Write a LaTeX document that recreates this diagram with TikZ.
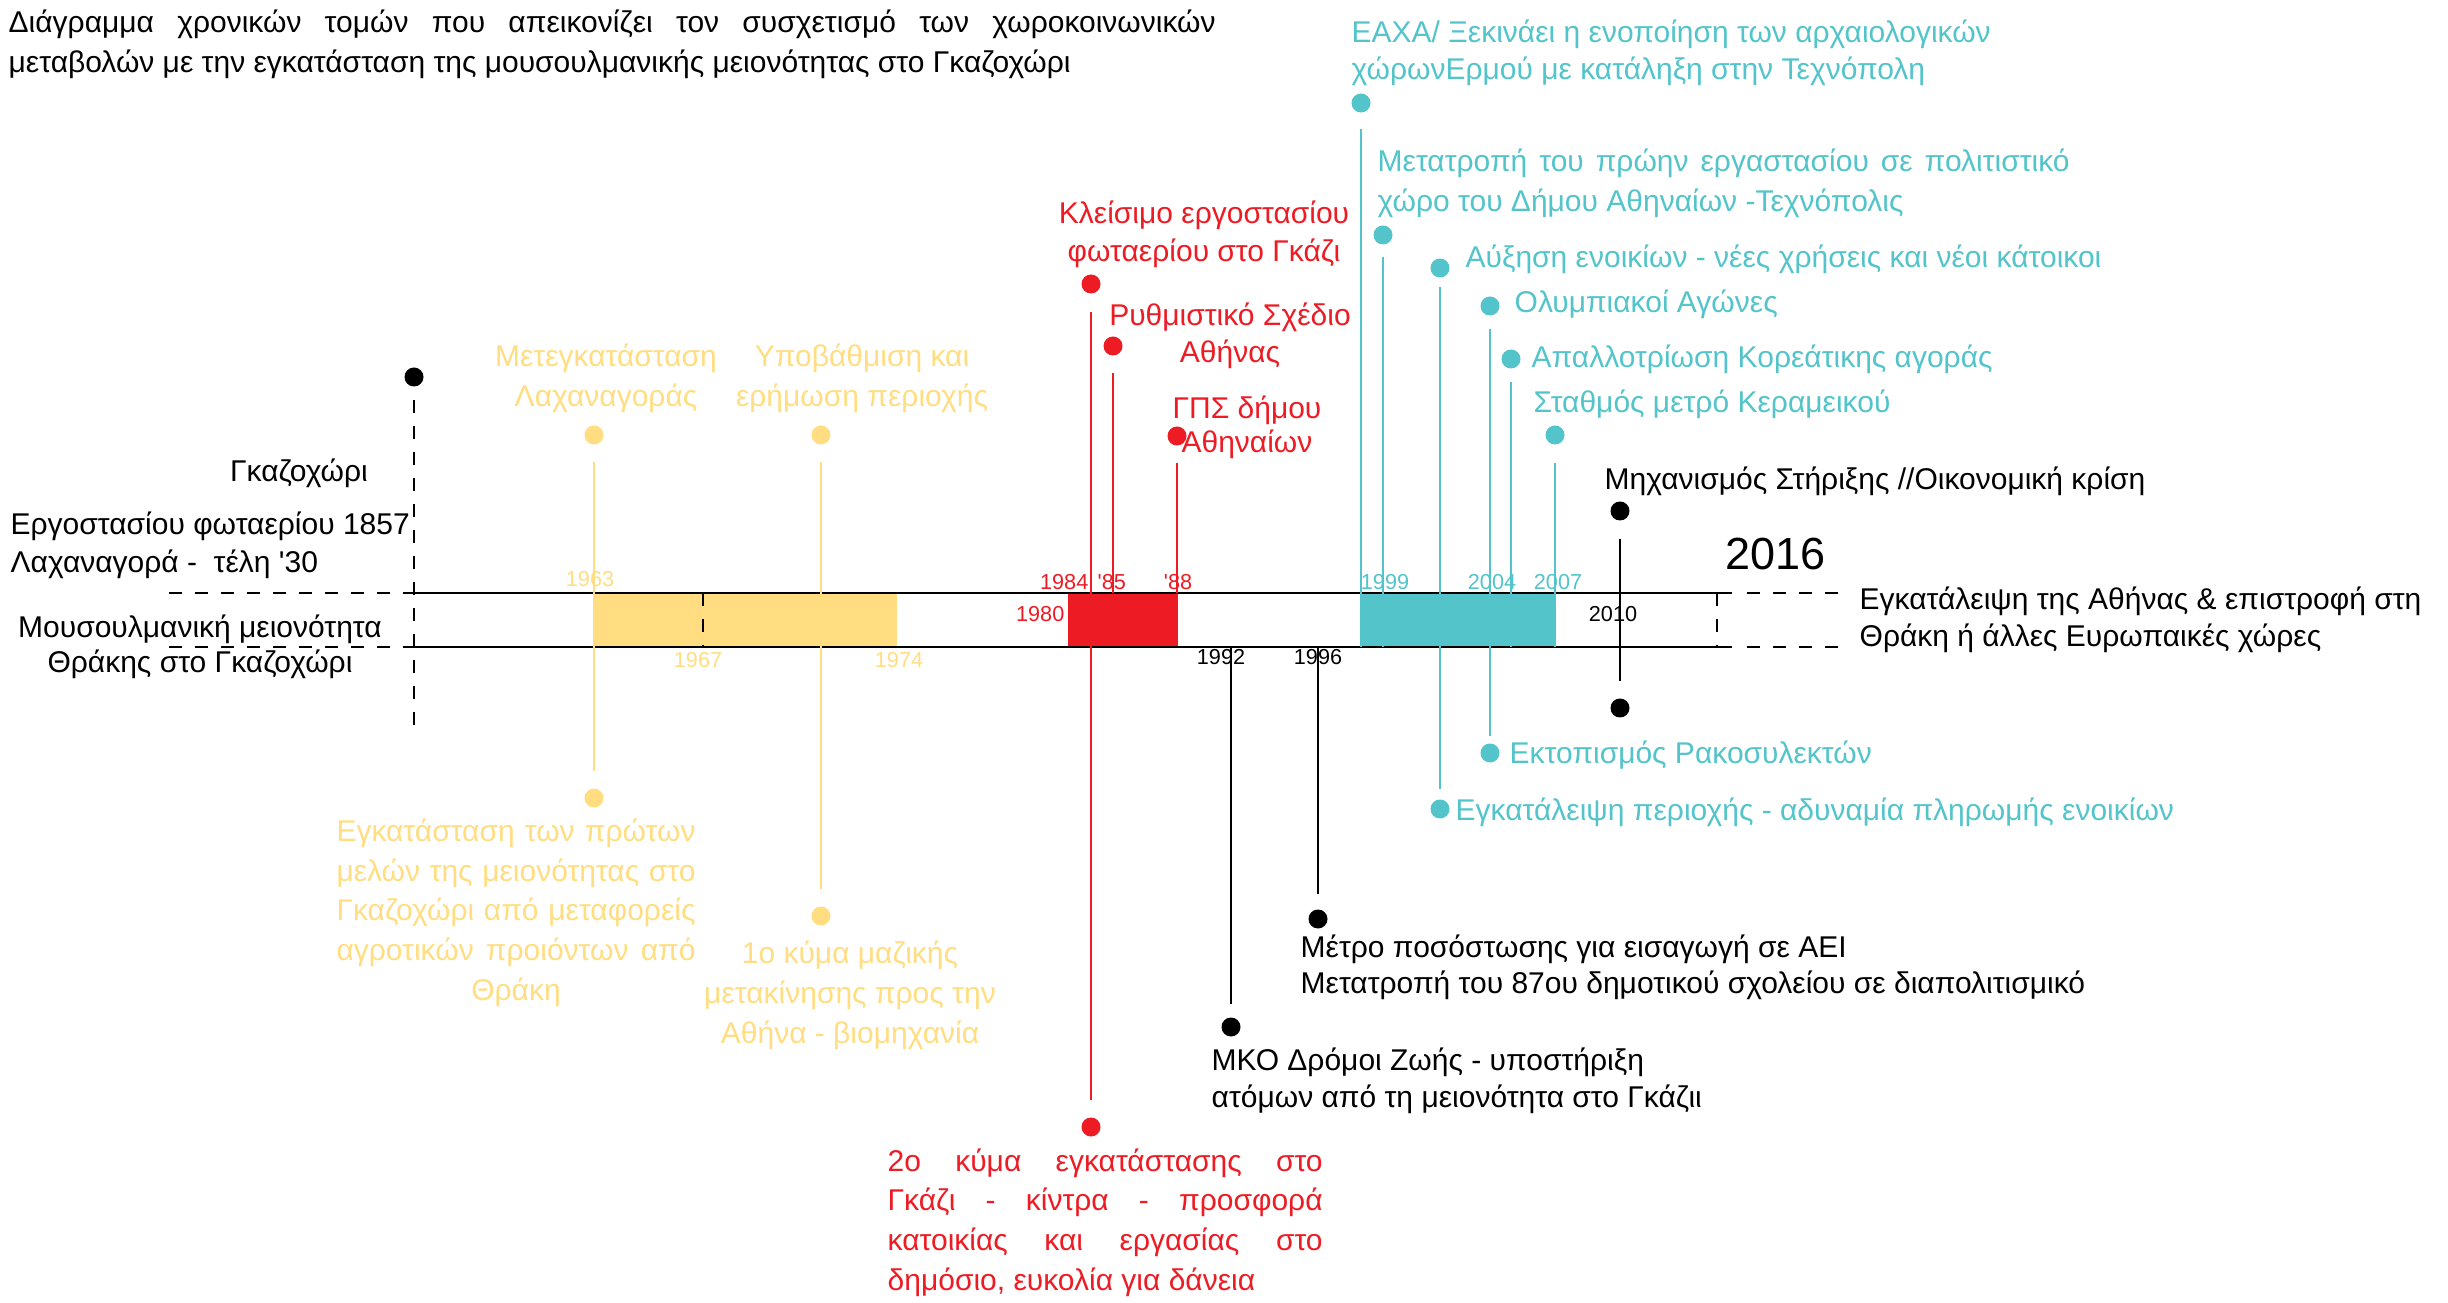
\documentclass[tikz,border=0pt]{standalone}
\usepackage{fontspec}
\setmainfont{Liberation Sans}
\definecolor{oldc}{RGB}{255,221,128}
\definecolor{gasc}{RGB}{237,28,36}
\definecolor{techc}{RGB}{82,196,202}
\tikzset{
  evdot/.style={circle,fill=#1,inner sep=0pt,minimum size=5.7pt},
  evdot/.default=black,
  stemline/.style={line width=0.4pt},
  axisline/.style={line width=0.6pt},
  dashline/.style={line width=0.6pt,dash pattern=on 3.9pt off 3.9pt},
  lbl/.style={font=\fontsize{9}{#1}\selectfont,inner sep=0pt},
  lbl/.default=11.2,
  yr/.style={font=\fontsize{6.5}{7}\selectfont,inner sep=0pt},
}
\begin{document}
\begin{tikzpicture}[x=0.3pt,y=-0.3pt]
\useasboundingbox (0,0) rectangle (2448,1303);
% title
\node[lbl=12,align=left,anchor=base west] (title) at (8,73) {\makebox[362.1pt][s]{Διάγραμμα χρονικών τομών που απεικονίζει τον συσχετισμό των χωροκοινωνικών}\\μεταβολών με την εγκατάσταση της μουσουλμανικής μειονότητας στο Γκαζοχώρι};

% periods
\fill[oldc] (594,593) rectangle (897,647);
\fill[gasc] (1068,593) rectangle (1178,647);
\fill[techc] (1361,593) rectangle (1556,647);

% time axis
\draw[axisline] (414,593) -- (1732,593);
\draw[axisline] (414,647) -- (1732,647);
\draw[dashline] (169,593) -- (414,593);
\draw[dashline] (169,647) -- (414,647);
\draw[dashline] (1747,593) -- (1841,593);
\draw[dashline] (1747,647) -- (1841,647);
\draw[dashline] (703,593) -- (703,647);
\draw[dashline] (1717,593) -- (1717,647);

% start
\node[evdot] (start) at (414,377) {};
\coordinate (startend) at (414,727);
\draw[dashline,shorten <=4pt] (start) -- (startend);
\node[lbl,anchor=base] (gazi) at (299,482) {Γκαζοχώρι};
\node[lbl,anchor=base west] (gasworks) at (10,535) {Εργοστασίου φωταερίου 1857};
\node[lbl,anchor=base west] (market) at (10,573) {Λαχαναγορά -\ \ τέλη \textquotesingle30};
\node[lbl=10.5,align=center,anchor=base] (minority) at (200,673) {Μουσουλμανική μειονότητα\\Θράκης στο Γκαζοχώρι};

% 1963-1974
\node[evdot=oldc] (d63t) at (594,435) {};
\node[evdot=oldc] (d63b) at (594,798) {};
\node[evdot=oldc] (d67t) at (821,435) {};
\node[evdot=oldc] (d67b) at (821,916) {};
\draw[oldc,stemline,shorten <=5pt,shorten >=5pt] (d63t) -- (d63b);
\draw[oldc,stemline,shorten <=5pt,shorten >=5pt] (d67t) -- (d67b);
\node[lbl=12,oldc,align=center,anchor=base] (market2) at (606,407) {Μετεγκατάσταση\\Λαχαναγοράς};
\node[lbl=12,oldc,align=center,anchor=base] (decline) at (862,407) {Υποβάθμιση και\\ερήμωση περιοχής};
\node[lbl=11.9,oldc,align=center,anchor=base] (settle) at (516,1000) {\makebox[107.7pt][s]{Εγκατάσταση των πρώτων}\\\makebox[107.7pt][s]{μελών της μειονότητας στο}\\\makebox[107.7pt][s]{Γκαζοχώρι από μεταφορείς}\\\makebox[107.7pt][s]{αγροτικών προιόντων από}\\Θράκη};
\node[lbl=12,oldc,align=center,anchor=base] (wave1) at (850,1043) {1ο κύμα μαζικής\\μετακίνησης προς την\\Αθήνα - βιομηχανία};
\node[yr,oldc,anchor=base] (y63) at (590,587) {1963};
\node[yr,oldc,anchor=base] (y67) at (698,668) {1967};
\node[yr,oldc,anchor=base] (y74) at (899,668) {1974};

% 1980-1988
\node[evdot=gasc] (d84t) at (1091,284) {};
\node[evdot=gasc] (d84b) at (1091,1127) {};
\node[evdot=gasc] (d85) at (1113,346) {};
\node[evdot=gasc] (d88) at (1177,436) {};
\coordinate (t85) at (1113,593);
\coordinate (t88) at (1177,593);
\draw[gasc,stemline,shorten <=5.5pt,shorten >=5pt] (d84t) -- (d84b);
\draw[gasc,stemline,shorten <=5pt] (d85) -- (t85);
\draw[gasc,stemline,shorten <=5pt] (d88) -- (t88);
\node[lbl=11.4,gasc,align=center,anchor=base] (closing) at (1204,262) {Κλείσιμο εργοστασίου\\φωταερίου στο Γκάζι};
\node[lbl=11.1,gasc,align=center,anchor=base] (masterplan) at (1230,363) {Ρυθμιστικό Σχέδιο\\Αθήνας};
\node[lbl=10.2,gasc,align=center,anchor=base] (gps) at (1247,453) {ΓΠΣ δήμου\\Αθηναίων};
\node[lbl=11.9,gasc,align=left,anchor=base west] (wave2) at (887,1290) {\makebox[130.5pt][s]{2ο κύμα εγκατάστασης στο}\\\makebox[130.5pt][s]{Γκάζι - κίντρα - προσφορά}\\\makebox[130.5pt][s]{κατοικίας και εργασίας στο}\\δημόσιο, ευκολία για δάνεια};
\node[yr,gasc,anchor=base east] (y80) at (1065,622) {1980};
\node[yr,gasc,anchor=base east] (y84) at (1089,590) {1984};
\node[yr,gasc,anchor=base west] (y85) at (1097,590) {\textquotesingle85};
\node[yr,gasc,anchor=base] (y88) at (1178,590) {\textquotesingle88};

% 1992-1996
\node[evdot] (d92) at (1231,1027) {};
\node[evdot] (d96) at (1318,919) {};
\coordinate (t92) at (1231,647);
\coordinate (t96) at (1318,647);
\draw[stemline,shorten >=3.75pt] (t92) -- (d92);
\draw[stemline,shorten >=4.35pt] (t96) -- (d96);
\node[lbl=10.8,align=left,anchor=base west] (quota) at (1300,993) {Μέτρο ποσόστωσης για εισαγωγή σε ΑΕΙ\\Μετατροπή του 87ου δημοτικού σχολείου σε διαπολιτισμικό};
\node[lbl=11.1,align=left,anchor=base west] (ngo) at (1211,1107) {ΜΚΟ Δρόμοι Ζωής - υποστήριξη\\ατόμων από τη μειονότητα στο Γκάζιι};
\node[yr,anchor=base] (y92) at (1221,665) {1992};
\node[yr,anchor=base] (y96) at (1318,665) {1996};

% 1999-2007
\node[evdot=techc] (deaxa) at (1361,103) {};
\node[evdot=techc] (dtechno) at (1383,235) {};
\node[evdot=techc] (drent) at (1440,268) {};
\node[evdot=techc] (dleave) at (1440,809) {};
\node[evdot=techc] (dolymp) at (1490,306) {};
\node[evdot=techc] (devict) at (1490,753) {};
\node[evdot=techc] (dexprop) at (1511,359) {};
\node[evdot=techc] (dmetro) at (1555,435) {};
\coordinate (beaxa) at (1361,647);
\coordinate (btechno) at (1383,647);
\coordinate (bexprop) at (1511,647);
\coordinate (bmetro) at (1555,647);
\draw[techc,stemline,shorten <=4.65pt] (deaxa) -- (beaxa);
\draw[techc,stemline,shorten <=3.45pt] (dtechno) -- (btechno);
\draw[techc,stemline,shorten <=2.55pt,shorten >=2.85pt] (drent) -- (dleave);
\draw[techc,stemline,shorten <=3.75pt,shorten >=1.95pt] (dolymp) -- (devict);
\draw[techc,stemline,shorten <=3.75pt] (dexprop) -- (bexprop);
\draw[techc,stemline,shorten <=5.25pt] (dmetro) -- (bmetro);
\node[lbl=11.1,techc,align=left,anchor=base west] (eaxa) at (1351,80) {ΕΑΧΑ/ Ξεκινάει η ενοποίηση των αρχαιολογικών\\χώρωνΕρμού με κατάληξη στην Τεχνόπολη};
\node[lbl=12,techc,align=left,anchor=base west] (techno) at (1377,212) {\makebox[207.6pt][s]{Μετατροπή του πρώην εργαστασίου σε πολιτιστικό}\\χώρο του Δήμου Αθηναίων -Τεχνόπολις};
\node[lbl,techc,anchor=base west] (rent) at (1465,268) {Αύξηση ενοικίων - νέες χρήσεις και νέοι κάτοικοι};
\node[lbl,techc,anchor=base west] (olymp) at (1514,313) {Ολυμπιακοί Αγώνες};
\node[lbl,techc,anchor=base west] (exprop) at (1531,368) {Απαλλοτρίωση Κορεάτικης αγοράς};
\node[lbl,techc,anchor=base west] (metro) at (1533,413) {Σταθμός μετρό Κεραμεικού};
\node[lbl,techc,anchor=base west] (evict) at (1509,763) {Εκτοπισμός Ρακοσυλεκτών};
\node[lbl,techc,anchor=base west] (leave) at (1455,820) {Εγκατάλειψη περιοχής - αδυναμία πληρωμής ενοικίων};
\node[yr,techc,anchor=base] (y99) at (1385,590) {1999};
\node[yr,techc,anchor=base] (y04) at (1492,590) {2004};
\node[yr,techc,anchor=base] (y07) at (1558,590) {2007};

% 2010-2016
\node[evdot] (d10t) at (1620,511) {};
\node[evdot] (d10b) at (1620,708) {};
\draw[stemline,shorten <=5.25pt,shorten >=4.95pt] (d10t) -- (d10b);
\node[lbl,anchor=base west] (crisis) at (1604,490) {Μηχανισμός Στήριξης //Οικονομική κρίση};
\node[yr,anchor=base] (y10) at (1613,622) {2010};
\node[font=\fontsize{13.5}{16}\selectfont,inner sep=0pt,anchor=base west] (y16) at (1725,570) {2016};
\node[lbl=11.1,align=left,anchor=base west] (return) at (1859,647) {Εγκατάλειψη της Αθήνας \& επιστροφή στη\\Θράκη ή άλλες Ευρωπαικές χώρες};
\end{tikzpicture}
\end{document}
